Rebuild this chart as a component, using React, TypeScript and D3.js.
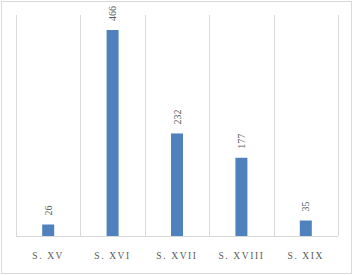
import React from "react";
import * as d3 from "d3";

const categories = ["S. XV", "S. XVI", "S. XVII", "S. XVIII", "S. XIX"];
const values = [26, 466, 232, 177, 35];
const yMax = 500;

const W = 353;
const H = 275;
const margin = { left: 16, right: 15, top: 15, bottom: 39 };

export default function App() {
  const x = d3
    .scaleBand<string>()
    .domain(categories)
    .range([margin.left, W - margin.right]);
  const y = d3
    .scaleLinear()
    .domain([0, yMax])
    .range([H - margin.bottom, margin.top]);
  const bw = 12;
  const gridXs = [...categories.map((c) => x(c)!), W - margin.right];
  const fontSerif = "'Liberation Serif', 'DejaVu Serif', serif";
  return (
    <div style={{ position: "fixed", left: 0, top: 0 }}>
      <svg width={W} height={H} style={{ display: "block" }}>
        <rect x={0} y={0} width={W} height={H} fill="#ffffff" />
        <rect
          x={1.5}
          y={1.5}
          width={W - 3}
          height={H - 3}
          fill="#ffffff"
          stroke="#d9d9d9"
          strokeWidth={1}
        />
        {gridXs.map((gx, i) => (
          <line
            key={i}
            x1={Math.round(gx) + 0.5}
            x2={Math.round(gx) + 0.5}
            y1={y(yMax)}
            y2={y(0)}
            stroke="#d9d9d9"
            strokeWidth={1}
          />
        ))}
        <line
          x1={margin.left}
          x2={W - margin.right}
          y1={Math.round(y(0)) + 0.5}
          y2={Math.round(y(0)) + 0.5}
          stroke="#d9d9d9"
          strokeWidth={1}
        />
        {categories.map((c, i) => {
          const cx = x(c)! + x.bandwidth() / 2;
          return (
            <g key={c}>
              <rect
                x={cx - bw / 2}
                y={y(values[i])}
                width={bw}
                height={y(0) - y(values[i])}
                fill="#4f81bd"
              />
              <text
                transform={`translate(${cx + 3.5},${y(values[i]) - 9}) rotate(-90)`}
                fontFamily={fontSerif}
                fontSize={10}
                fill="#595959"
                textAnchor="start"
              >
                {values[i]}
              </text>
              <text
                x={cx}
                y={259}
                fontFamily={fontSerif}
                fontSize={9.5}
                letterSpacing={1.6}
                fill="#595959"
                textAnchor="middle"
              >
                {c}
              </text>
            </g>
          );
        })}
      </svg>
    </div>
  );
}
